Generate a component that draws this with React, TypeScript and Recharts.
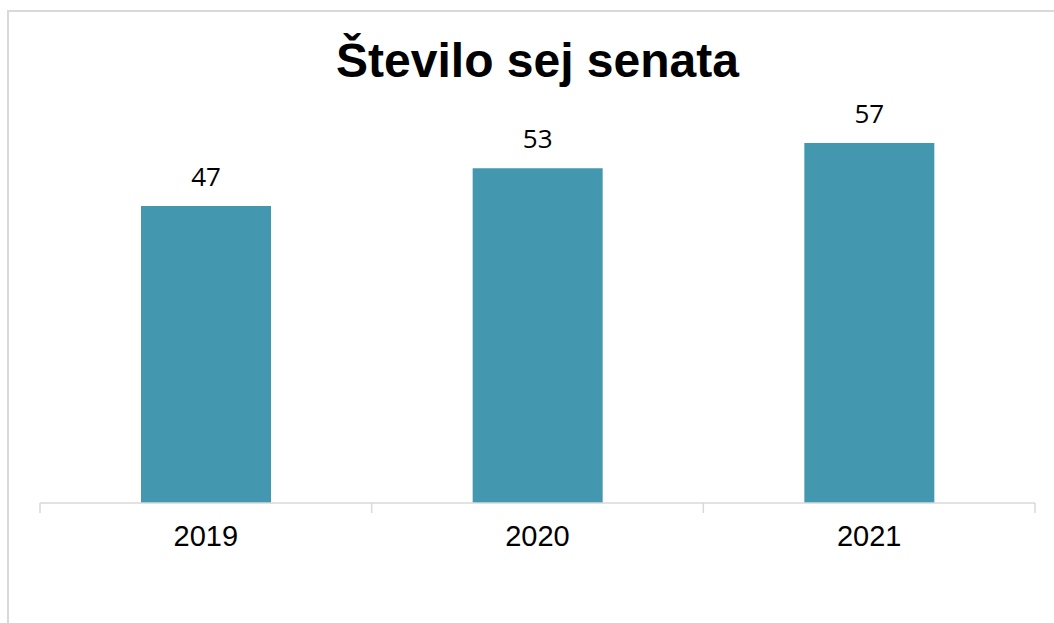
import React from 'react';
import { BarChart, Bar, XAxis, YAxis, LabelList } from 'recharts';

const title = 'Število sej senata';
const years = ['2019', '2020', '2021'];
const sessions = [47, 53, 57];

const data = years.map((y, i) => ({ year: y, value: sessions[i] }));

const AXIS_COLOR = '#d9d9d9';

function YearTick(props: any) {
  const { x, y, payload, index, visibleTicksCount } = props;
  const half = payload && payload.offset ? payload.offset : 166;
  const axisY = y - 22;
  const isLast = index === (visibleTicksCount ?? years.length) - 1;
  return (
    <g>
      <line x1={x - half} x2={x - half} y1={axisY} y2={axisY + 10} stroke={AXIS_COLOR} strokeWidth={1.5} />
      {isLast && (
        <line x1={x + half} x2={x + half} y1={axisY} y2={axisY + 10} stroke={AXIS_COLOR} strokeWidth={1.5} />
      )}
      <text
        x={x}
        y={y}
        dy="0.71em"
        textAnchor="middle"
        fill="#000"
        fontSize={29}
        fontFamily="'Liberation Sans', Arial, sans-serif"
      >
        {payload.value}
      </text>
    </g>
  );
}

export default function App() {
  return (
    <div style={{ position: 'relative', width: 1054, height: 623, overflow: 'hidden', background: '#fff' }}>
      <style>{`body{margin:0;overflow:hidden;}`}</style>
      <div
        style={{
          position: 'absolute',
          left: 7,
          top: 10,
          width: 1100,
          height: 700,
          borderLeft: '2px solid #d9d9d9',
          borderTop: '2px solid #d9d9d9',
          boxSizing: 'border-box',
        }}
      />
      <svg width={1054} height={110} style={{ position: 'absolute', left: 0, top: 0 }}>
        <text
          x={537.5}
          y={77}
          textAnchor="middle"
          fontFamily="'Liberation Sans', Arial, sans-serif"
          fontWeight="bold"
          fontSize={48}
          fill="#000"
        >
          {title}
        </text>
      </svg>
      <div style={{ position: 'absolute', left: 0, top: 0 }}>
        <BarChart
          width={1054}
          height={623}
          data={data}
          margin={{ top: 124, right: 19, left: 40, bottom: 60 }}
        >
          <XAxis
            dataKey="year"
            height={60}
            axisLine={{ stroke: AXIS_COLOR, strokeWidth: 1.5 }}
            tickLine={false}
            tickSize={10}
            tickMargin={12}
            tick={<YearTick />}
            interval={0}
          />
          <YAxis hide width={0} domain={[0, 60]} />
          <Bar dataKey="value" fill="#4398b0" barSize={130} isAnimationActive={false}>
            <LabelList
              dataKey="value"
              position="top"
              offset={20}
              fill="#000"
              fontSize={26}
              fontFamily="'Open Sans', sans-serif"
            />
          </Bar>
        </BarChart>
      </div>
    </div>
  );
}
